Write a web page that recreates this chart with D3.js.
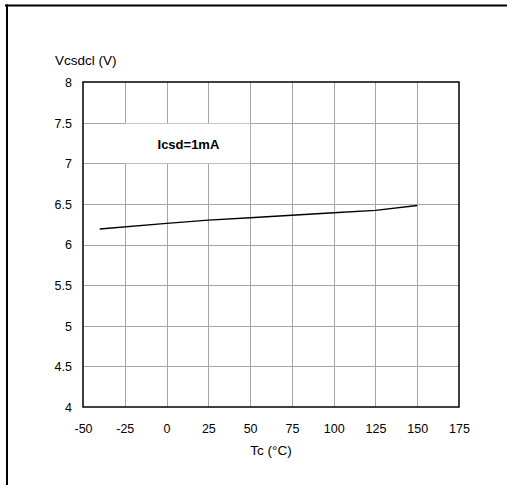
<!DOCTYPE html>
<html>
<head>
<meta charset="utf-8">
<script src="https://cdn.jsdelivr.net/npm/d3@7"></script>
<style>
  html, body { margin: 0; padding: 0; background: #fff; }
  svg { display: block; font-family: "Liberation Sans", Arial, sans-serif; }
</style>
</head>
<body>
<svg id="chart" width="507" height="485"></svg>
<script>
// Data
const tempC = [-40, 0, 25, 50, 75, 100, 125, 150];
const vcsdcl = [6.19, 6.26, 6.30, 6.33, 6.36, 6.39, 6.42, 6.48];
const xTicks = [-50, -25, 0, 25, 50, 75, 100, 125, 150, 175];
const yTicks = [4, 4.5, 5, 5.5, 6, 6.5, 7, 7.5, 8];
const yTitle = "Vcsdcl (V)";
const xTitle = "Tc (°C)";
const annotation = "Icsd=1mA";

const svg = d3.select("#chart");
const pL = 83, pR = 459, pT = 82, pB = 407;

const x = d3.scaleLinear().domain([-50, 175]).range([pL, pR]);
const y = d3.scaleLinear().domain([4, 8]).range([pB, pT]);

// outer frame lines
svg.append("line").attr("x1", 5).attr("x2", 507).attr("y1", 5.5).attr("y2", 5.5)
  .attr("stroke", "#000").attr("stroke-width", 2);
svg.append("line").attr("x1", 7).attr("x2", 7).attr("y1", 4.5).attr("y2", 485)
  .attr("stroke", "#000").attr("stroke-width", 2);

// grid
const grid = svg.append("g").attr("stroke", "#a6a6a6").attr("stroke-width", 1);
grid.selectAll(".vg").data(xTicks.slice(1, -1)).join("line")
  .attr("x1", d => Math.round(x(d)) + 0.5).attr("x2", d => Math.round(x(d)) + 0.5)
  .attr("y1", pT).attr("y2", pB);
grid.selectAll(".hg").data(yTicks.slice(1, -1)).join("line")
  .attr("y1", d => Math.round(y(d)) + 0.5).attr("y2", d => Math.round(y(d)) + 0.5)
  .attr("x1", pL).attr("x2", pR);

// annotation box (white background)
svg.append("rect")
  .attr("x", x(-25)).attr("width", x(50) - x(-25))
  .attr("y", y(7.5) + 1).attr("height", y(7) - y(7.5) - 1)
  .attr("fill", "#fff");
svg.append("text")
  .attr("x", (x(-25) + x(50)) / 2 + 1).attr("y", (y(7.5) + y(7)) / 2 + 6)
  .attr("text-anchor", "middle").attr("font-weight", "bold").attr("font-size", 13)
  .text(annotation);

// plot frame
svg.append("rect").attr("x", pL).attr("y", pT)
  .attr("width", pR - pL).attr("height", pB - pT)
  .attr("fill", "none").attr("stroke", "#000").attr("stroke-width", 1.5);

// axes
const xAxis = d3.axisBottom(x).tickValues(xTicks).tickSize(0).tickPadding(0)
  .tickFormat(d => String(d));
const gx = svg.append("g").attr("transform", `translate(0,${pB})`).call(xAxis);
gx.select(".domain").remove();
gx.selectAll("text").attr("dy", null).attr("y", 26).attr("font-size", 12.5)
  .attr("font-family", "Liberation Sans, Arial, sans-serif").attr("fill", "#000");

const yAxis = d3.axisLeft(y).tickValues(yTicks).tickSize(0).tickPadding(0)
  .tickFormat(d => String(d));
const gy = svg.append("g").attr("transform", `translate(${pL},0)`).call(yAxis);
gy.select(".domain").remove();
gy.selectAll("text").attr("x", -11).attr("dy", "0.35em").attr("font-size", 12.5)
  .attr("font-family", "Liberation Sans, Arial, sans-serif").attr("fill", "#000");

// titles
svg.append("text").attr("x", 55).attr("y", 65).attr("font-size", 13.5).text(yTitle);
svg.append("text").attr("x", (x(50) + x(75)) / 2).attr("y", 455)
  .attr("text-anchor", "middle").attr("font-size", 13.5).text(xTitle);

// series line
const line = d3.line().x((d, i) => x(tempC[i])).y(d => y(d));
svg.append("path").datum(vcsdcl).attr("d", line)
  .attr("fill", "none").attr("stroke", "#000").attr("stroke-width", 1.5);
</script>
</body>
</html>
